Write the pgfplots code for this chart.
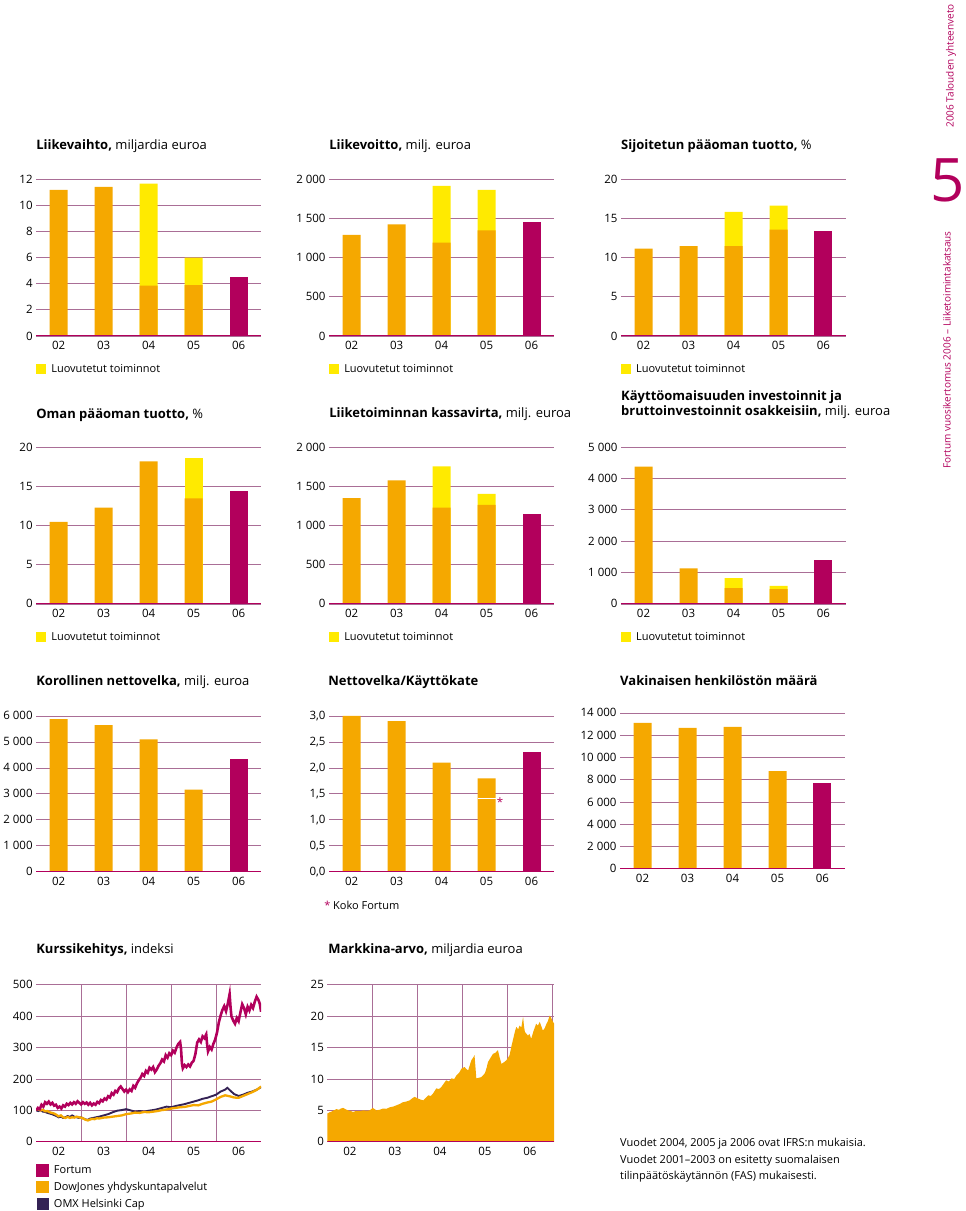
\documentclass[border=0pt]{standalone}
\usepackage{fontspec}
\setmainfont{Open Sans}
\usepackage{pgfplots}
\pgfplotsset{compat=1.18}

\definecolor{corange}{RGB}{245,168,0}
\definecolor{cyel}{RGB}{255,234,0}
\definecolor{cmag}{RGB}{178,0,92}
\definecolor{cpurp}{RGB}{52,34,84}
\definecolor{cgrid}{RGB}{170,110,150}

\newcommand\tickfont{\fontsize{11.5}{13}\selectfont}
\newcommand\titlefont{\fontsize{13}{15}\selectfont}
\newcommand\legfont{\fontsize{11}{13}\selectfont}

\pgfplotsset{
  panel/.style={
    scale only axis, width=225pt, height=157pt, anchor=south west,
    axis line style={draw=none}, tick style={draw=none},
    ymin=0, ymajorgrids, grid style={cgrid, line width=0.7pt},
    scaled y ticks=false, scaled x ticks=false,
    tick label style={font=\tickfont},
    /pgf/number format/assume math mode=true,
    xticklabel style={yshift=-2pt},
    legend style={draw=none, fill=none, font=\legfont, inner sep=0pt,
      at={(0,-0.21)}, anchor=west},
    legend cell align=left,
  },
  fbars/.style={panel, xmin=-0.5, xmax=4.5, xtick={0,...,4},
    xticklabels={02,03,04,05,06}},
  fbar/.style={ybar, bar width=18pt, bar shift=0pt, draw=none, fill=#1},
  sq legend/.style={legend image code/.code={\fill[##1] (0pt,-5pt) rectangle (10pt,5pt); \path (13pt,0pt);}},
  zeroline/.style={cmag, line width=1.6pt, forget plot},
}

\begin{document}
\begin{tikzpicture}
\path (0pt,0pt) rectangle (960pt,-1211pt);

% ---------- row 1 ----------
\begin{axis}[fbars, at={(33pt,-336pt)}, ymax=12, ytick={0,2,...,12}]
\addplot[fbar=cyel, sq legend] coordinates {(2,11.64) (3,5.99)};
\addlegendentry{Luovutetut toiminnot}
\addplot[fbar=corange, forget plot] coordinates {(0,11.16) (1,11.39) (2,3.84) (3,3.89)};
\addplot[fbar=cmag, forget plot] coordinates {(4,4.53)};
\addplot[zeroline] coordinates {(-0.5,0) (4.5,0)};
\end{axis}

\begin{axis}[fbars, at={(326pt,-336pt)}, ymax=2000, ytick={0,500,...,2000},
  yticklabels={0,500,1 000,1 500,2 000}]
\addplot[fbar=cyel, sq legend] coordinates {(2,1911) (3,1860)};
\addlegendentry{Luovutetut toiminnot}
\addplot[fbar=corange, forget plot] coordinates {(0,1287) (1,1423) (2,1189) (3,1346)};
\addplot[fbar=cmag, forget plot] coordinates {(4,1456)};
\addplot[zeroline] coordinates {(-0.5,0) (4.5,0)};
\end{axis}

\begin{axis}[fbars, at={(618pt,-336pt)}, ymax=20, ytick={0,5,...,20}]
\addplot[fbar=cyel, sq legend] coordinates {(2,15.82) (3,16.59)};
\addlegendentry{Luovutetut toiminnot}
\addplot[fbar=corange, forget plot] coordinates {(0,11.13) (1,11.43) (2,11.43) (3,13.56)};
\addplot[fbar=cmag, forget plot] coordinates {(4,13.43)};
\addplot[zeroline] coordinates {(-0.5,0) (4.5,0)};
\end{axis}

% ---------- row 2 ----------
\begin{axis}[fbars, at={(33pt,-604pt)}, ymax=20, ytick={0,5,...,20}]
\addplot[fbar=cyel, sq legend] coordinates {(3,18.63)};
\addlegendentry{Luovutetut toiminnot}
\addplot[fbar=corange, forget plot] coordinates {(0,10.45) (1,12.28) (2,18.17) (3,13.43)};
\addplot[fbar=cmag, forget plot] coordinates {(4,14.37)};
\addplot[zeroline] coordinates {(-0.5,0) (4.5,0)};
\end{axis}

\begin{axis}[fbars, at={(326pt,-604pt)}, ymax=2000, ytick={0,500,...,2000},
  yticklabels={0,500,1 000,1 500,2 000}]
\addplot[fbar=cyel, sq legend] coordinates {(2,1753) (3,1403)};
\addlegendentry{Luovutetut toiminnot}
\addplot[fbar=corange, forget plot] coordinates {(0,1347) (1,1574) (2,1228) (3,1262)};
\addplot[fbar=cmag, forget plot] coordinates {(4,1147)};
\addplot[zeroline] coordinates {(-0.5,0) (4.5,0)};
\end{axis}

\begin{axis}[fbars, at={(618pt,-604pt)}, ymax=5000, ytick={0,1000,...,5000},
  yticklabels={0,1 000,2 000,3 000,4 000,5 000}]
\addplot[fbar=cyel, sq legend] coordinates {(2,821) (3,576)};
\addlegendentry{Luovutetut toiminnot}
\addplot[fbar=corange, forget plot] coordinates {(0,4371) (1,1130) (2,501) (3,469)};
\addplot[fbar=cmag, forget plot] coordinates {(4,1386)};
\addplot[zeroline] coordinates {(-0.5,0) (4.5,0)};
\end{axis}

% ---------- row 3 ----------
\begin{axis}[fbars, at={(33pt,-872pt)}, height=156pt, ymax=6000, ytick={0,1000,...,6000},
  yticklabels={0,1 000,2 000,3 000,4 000,5 000,6 000}]
\addplot[fbar=corange] coordinates {(0,5872) (1,5640) (2,5100) (3,3160)};
\addplot[fbar=cmag] coordinates {(4,4355)};
\addplot[zeroline] coordinates {(-0.5,0) (4.5,0)};
\end{axis}

\begin{axis}[fbars, at={(326pt,-872pt)}, height=156pt, ymax=3, ytick={0,0.5,...,3},
  yticklabels={{0,0},{0,5},{1,0},{1,5},{2,0},{2,5},{3,0}}]
\addplot[fbar=corange] coordinates {(0,3.0) (1,2.90) (2,2.10) (3,1.80)};
\addplot[fbar=cmag] coordinates {(4,2.31)};
\addplot[white, line width=1.6pt] coordinates {(2.8,1.41) (3.2,1.41)};
\addplot[zeroline] coordinates {(-0.5,0) (4.5,0)};
\node[anchor=base, text=cmag, font=\tickfont] at (axis cs:3.30,1.25) {*};
\end{axis}

\begin{axis}[fbars, at={(617pt,-869pt)}, height=156pt, ymax=14000, ytick={0,2000,...,14000},
  yticklabels={0,2 000,4 000,6 000,8 000,10 000,12 000,14 000}]
\addplot[fbar=corange] coordinates {(0,13103) (1,12654) (2,12744) (3,8765)};
\addplot[fbar=cmag] coordinates {(4,7688)};
\addplot[zeroline] coordinates {(-0.5,0) (4.5,0)};
\end{axis}

% ---------- row 4 ----------
\begin{axis}[panel, at={(33pt,-1142pt)}, xmin=0, xmax=5, ymax=500,
  xtick={0.5,1.5,2.5,3.5,4.5}, xticklabels={02,03,04,05,06},
  extra x ticks={1,2,3,4}, extra x tick labels={},
  extra x tick style={grid=major},
  ytick={0,100,...,500},
  legend style={at={(0,-0.14)}, anchor=north west, row sep=3pt},
  reverse legend]
\addplot[cpurp, line width=1.9pt, sq legend] coordinates {
(0.00,100) (0.05,98) (0.10,101) (0.15,96) (0.20,95) (0.25,92) (0.30,90)
(0.35,88) (0.40,85) (0.45,82) (0.50,78) (0.55,80) (0.60,76) (0.65,78)
(0.70,82) (0.75,79) (0.80,84) (0.85,80) (0.90,78) (0.95,76) (1.00,78)
(1.05,74) (1.10,71) (1.15,70) (1.20,74) (1.30,77) (1.40,80) (1.50,84)
(1.60,88) (1.70,94) (1.80,99) (1.90,101) (2.00,104) (2.10,100) (2.20,96)
(2.30,98) (2.40,96) (2.50,99) (2.60,101) (2.70,104) (2.80,108) (2.90,112)
(3.00,110) (3.10,114) (3.20,117) (3.30,120) (3.40,124) (3.50,128) (3.60,132)
(3.70,137) (3.80,140) (3.90,145) (4.00,150) (4.10,160) (4.20,166) (4.25,172)
(4.30,165) (4.40,152) (4.50,146) (4.60,150) (4.70,156) (4.80,160) (4.90,166)
(5.00,174)};
\addlegendentry{OMX Helsinki Cap}
\addplot[corange, line width=2.3pt, sq legend] coordinates {
(0.00,103) (0.05,104) (0.10,100) (0.15,102) (0.20,97) (0.25,98) (0.30,94)
(0.35,92) (0.40,90) (0.45,86) (0.50,81) (0.55,84) (0.60,78) (0.65,76)
(0.70,79) (0.75,76) (0.80,78) (0.85,77) (0.90,80) (0.95,78) (1.00,77)
(1.05,74) (1.10,70) (1.15,68) (1.20,71) (1.25,73) (1.30,72) (1.35,75)
(1.40,74) (1.50,77) (1.60,78) (1.70,80) (1.80,82) (1.90,84) (2.00,88)
(2.10,90) (2.20,93) (2.30,92) (2.40,95) (2.50,94) (2.60,96) (2.70,98)
(2.80,101) (2.90,103) (3.00,106) (3.10,108) (3.20,110) (3.30,111) (3.40,114)
(3.50,117) (3.60,116) (3.70,121) (3.80,125) (3.90,128) (4.00,135) (4.10,143)
(4.20,148) (4.30,145) (4.40,141) (4.50,140) (4.60,146) (4.70,152) (4.80,158)
(4.90,165) (5.00,176)};
\addlegendentry{DowJones yhdyskuntapalvelut}
\addplot[cmag, line width=2.6pt, sq legend] coordinates {
(0.00,100) (0.04,108) (0.08,104) (0.12,118) (0.16,112) (0.20,126) (0.24,121)
(0.28,128) (0.32,119) (0.36,124) (0.40,115) (0.44,118) (0.48,108) (0.52,112)
(0.56,106) (0.60,116) (0.64,112) (0.68,121) (0.72,117) (0.76,124) (0.80,119)
(0.84,126) (0.88,121) (0.92,129) (0.96,124) (1.00,119) (1.04,126) (1.08,121)
(1.12,125) (1.16,118) (1.20,124) (1.24,116) (1.28,122) (1.32,118) (1.36,127)
(1.40,123) (1.44,133) (1.48,129) (1.52,138) (1.56,134) (1.60,145) (1.64,141)
(1.68,155) (1.72,150) (1.76,162) (1.80,158) (1.84,170) (1.88,176) (1.92,168)
(1.96,160) (2.00,166) (2.04,158) (2.08,167) (2.12,162) (2.16,178) (2.20,172)
(2.24,186) (2.28,196) (2.32,204) (2.36,216) (2.40,210) (2.44,226) (2.48,220)
(2.52,236) (2.56,230) (2.60,238) (2.64,222) (2.68,230) (2.72,242) (2.76,250)
(2.80,262) (2.84,256) (2.88,276) (2.92,268) (2.96,282) (3.00,276) (3.04,290)
(3.08,284) (3.12,300) (3.16,312) (3.20,318) (3.22,296) (3.24,250) (3.26,234)
(3.30,244) (3.34,238) (3.38,246) (3.42,240) (3.46,252) (3.50,258) (3.54,280)
(3.58,316) (3.62,326) (3.66,318) (3.70,336) (3.74,330) (3.78,342) (3.80,310)
(3.82,288) (3.86,302) (3.90,294) (3.94,312) (3.98,326) (4.02,348) (4.06,380)
(4.10,402) (4.14,420) (4.18,432) (4.22,416) (4.26,440) (4.30,470) (4.32,430)
(4.34,400) (4.38,386) (4.42,376) (4.46,394) (4.50,384) (4.54,412) (4.58,438)
(4.62,426) (4.66,406) (4.70,430) (4.74,418) (4.78,436) (4.82,426) (4.86,446)
(4.90,462) (4.94,452) (4.97,440) (5.00,414)};
\addlegendentry{Fortum}
\addplot[zeroline] coordinates {(0,0) (5,0)};
\end{axis}

\begin{axis}[panel, at={(324.3pt,-1142pt)}, width=226.8pt, xmin=0, xmax=5.04, ymax=25,
  xtick={0.5,1.5,2.5,3.5,4.5}, xticklabels={02,03,04,05,06},
  extra x ticks={1,2,3,4,5}, extra x tick labels={},
  extra x tick style={grid=major},
  ytick={0,5,...,25}]
\addplot[fill=corange, draw=none] coordinates {
(0,4.5) (0.05,4.7) (0.09,4.8) (0.14,5.0) (0.2,5.2) (0.26,5.1) (0.3,5.3)
(0.35,5.4) (0.4,5.2) (0.46,5.0) (0.52,4.9) (0.57,4.75) (0.63,4.9) (0.72,4.9)
(0.8,5.0) (0.88,4.95) (0.94,5.0) (1.01,5.4) (1.05,5.2) (1.09,5.0) (1.16,5.1)
(1.24,5.3) (1.31,5.25) (1.39,5.5) (1.46,5.6) (1.53,5.8) (1.6,6.0) (1.68,6.3)
(1.75,6.4) (1.83,6.6) (1.9,7.0) (1.94,7.15) (2.01,6.9) (2.08,6.7) (2.13,6.6)
(2.19,7.0) (2.24,7.4) (2.3,7.3) (2.35,7.7) (2.42,8.5) (2.48,8.4) (2.53,8.7)
(2.58,9.2) (2.64,9.8) (2.7,9.6) (2.76,10.1) (2.82,10.0) (2.87,10.6) (2.93,11.0)
(2.98,11.65) (3.05,11.9) (3.1,11.5) (3.13,11.4) (3.2,13.0) (3.24,13.4) (3.27,13.8)
(3.29,12.0) (3.31,10.1) (3.37,10.2) (3.42,10.3) (3.5,10.9) (3.54,11.8) (3.57,12.7)
(3.62,13.3) (3.68,14.0) (3.74,14.2) (3.79,14.6) (3.83,13.4) (3.87,12.4) (3.93,12.7)
(3.98,13.0) (4.05,13.8) (4.09,15.2) (4.13,16.4) (4.17,17.6) (4.2,18.3) (4.24,17.9)
(4.27,18.5) (4.31,18.2) (4.35,19.9) (4.37,18.4) (4.39,17.5) (4.46,16.9) (4.49,17.2)
(4.53,16.4) (4.58,17.6) (4.64,18.8) (4.68,18.5) (4.72,19.1) (4.76,18.3) (4.79,17.7)
(4.83,18.1) (4.87,18.8) (4.9,19.2) (4.94,20.1) (4.97,19.8) (5.0,19.3) (5.04,18.8)}
\closedcycle;
\addplot[zeroline] coordinates {(0,0) (5.04,0)};
\end{axis}

% ---------- titles ----------
\begin{scope}[every node/.style={anchor=base west, font=\titlefont, inner sep=0pt}]
\node at (33pt,-150pt) {\textbf{Liikevaihto,} miljardia euroa};
\node at (326pt,-150pt) {\textbf{Liikevoitto,} milj. euroa};
\node at (618pt,-150pt) {\textbf{Sijoitetun pääoman tuotto,} \%};
\node at (33pt,-419pt) {\textbf{Oman pääoman tuotto,} \%};
\node at (326pt,-418pt) {\textbf{Liiketoiminnan kassavirta,} milj. euroa};
\node at (618pt,-401pt) {\textbf{Käyttöomaisuuden investoinnit ja}};
\node at (618pt,-416pt) {\textbf{bruttoinvestoinnit osakkeisiin,} milj. euroa};
\node at (33pt,-686pt) {\textbf{Korollinen nettovelka,} milj. euroa};
\node at (325pt,-686pt) {\textbf{Nettovelka/Käyttökate}};
\node at (617pt,-686pt) {\textbf{Vakinaisen henkilöstön määrä}};
\node at (33pt,-954pt) {\textbf{Kurssikehitys,} indeksi};
\node at (325pt,-954pt) {\textbf{Markkina-arvo,} miljardia euroa};
\end{scope}

% ---------- notes ----------
\begin{scope}[every node/.style={anchor=base west, font=\legfont, inner sep=0pt}]
\node at (321pt,-910pt) {\textcolor{cmag}{*} Koko Fortum};
\node at (617pt,-1147pt) {Vuodet 2004, 2005 ja 2006 ovat IFRS:n mukaisia.};
\node at (617pt,-1164pt) {Vuodet 2001--2003 on esitetty suomalaisen};
\node at (617pt,-1180pt) {tilinpäätöskäytännön (FAS) mukaisesti.};
\end{scope}

% ---------- margin ----------
\node[rotate=90, text=cmag, font=\fontsize{10}{12}\selectfont] at (948pt,-66pt) {2006 Talouden yhteenveto};
\node[text=cmag, font=\fontsize{60}{60}\selectfont, inner sep=0pt] at (945pt,-180pt) {5};
\node[rotate=90, text=cmag, font=\fontsize{10}{12}\selectfont] at (944pt,-350pt) {Fortum vuosikertomus 2006 -- Liiketoimintakatsaus};
\end{tikzpicture}
\end{document}
